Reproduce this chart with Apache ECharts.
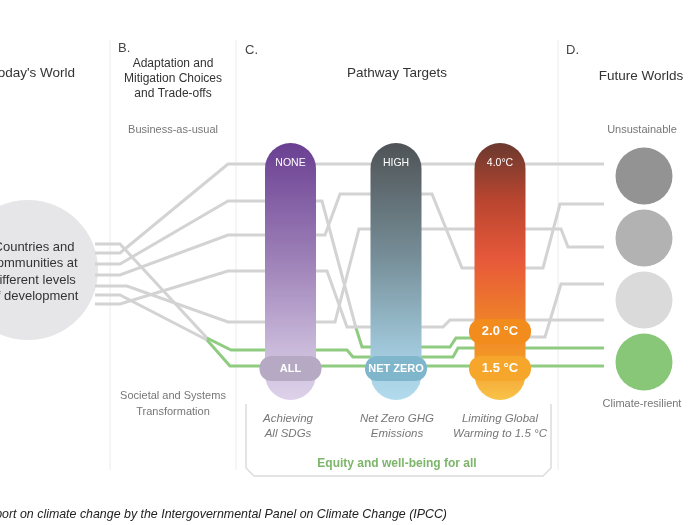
<!DOCTYPE html>
<html><head><meta charset="utf-8">
<script src="https://cdn.jsdelivr.net/npm/echarts@6/dist/echarts.min.js"></script>
<style>html,body{margin:0;padding:0;background:#fff}#c{width:700px;height:525px}</style>
</head><body><div id="c"></div>
<script>
// ---- content / data ----
const sectionLetters = ['B.', 'C.', 'D.'];
const headings = ["Today's World", 'Adaptation and\nMitigation Choices\nand Trade-offs', 'Pathway Targets', 'Future Worlds'];
const startLabel = 'Countries and\ncommunities at\ndifferent levels\nof development';
const choiceLabels = ['Business-as-usual', 'Societal and Systems\nTransformation'];
const targetTop = ['NONE', 'HIGH', '4.0\u00B0C'];
const targetBottom = ['ALL', 'NET ZERO', '1.5 \u00B0C'];
const targetMid = ['', '', '2.0 \u00B0C'];
const targetNames = ['Achieving\nAll SDGs', 'Net Zero GHG\nEmissions', 'Limiting Global\nWarming to 1.5 \u00B0C'];
const worldLabels = ['Unsustainable', 'Climate-resilient'];
const equityLabel = 'Equity and well-being for all';
const sourceLabel = 'Source: Special report on climate change by the Intergovernmental Panel on Climate Change (IPCC)';

// pathways (diagram coordinates)
const pathTop      = [[95,253],[120,253],[228,164],[604,164]];
const pathA_gray   = [[95,264],[120,264],[228,201],[322,201],[356,328]];
const pathA_green  = [[356,328],[362,347],[450,347],[456,338],[490,338]];
const pathA_exit   = [[515,337],[545,337],[561,284],[604,284]];
const pathB        = [[95,275],[120,275],[228,235],[325,235],[340,194],[432,194],[462,268],[543,268],[560,204],[604,204]];
const pathC        = [[95,304],[120,304],[228,271],[327,271],[347,327],[443,327],[450,320],[604,320]];
const pathD        = [[95,286],[127,286],[228,322],[335,322],[359,229],[561,229],[568,247],[604,247]];
const pathE_gray   = [[95,244],[120,244],[207,338]];
const pathE_green  = [[207,338],[231,350],[347,350],[353,357],[453,357],[458,348],[604,348]];
const pathF_gray   = [[95,295],[120,295],[207,340]];
const pathF_green  = [[207,340],[230,366],[604,366]];
const boxOutline   = [[246,404],[246,468],[254,476],[543,476],[551,468],[551,404]];
const dividers     = [[[110,40],[110,470]], [[236,40],[236,470]], [[558,40],[558,470]]];

const worlds = [[644,176],[644,238],[644,300],[644,362]];
const startCircle = [[28,270]];

// ---- layout / style ----
const GRAY = '#d3d3d3', GREEN = '#8fcb80';
const pillCenters = [290.5, 396, 500];
const pillHalfW = 25.5, pillTop = 143, pillBottom = 400;
const worldColors = ['#939393', '#b3b2b2', '#dadada', '#88c778'];
const pillGradients = [
  [{offset:0,color:'#6a3f92'},{offset:0.45,color:'#9d80b7'},{offset:0.8,color:'#c9b9da'},{offset:1,color:'#ddd2e9'}],
  [{offset:0,color:'#4f5356'},{offset:0.45,color:'#778f99'},{offset:0.8,color:'#9fc7d9'},{offset:1,color:'#b2dcee'}],
  [{offset:0,color:'#6b392f'},{offset:0.22,color:'#b8452f'},{offset:0.45,color:'#e6583a'},{offset:0.65,color:'#ee7a2c'},{offset:0.82,color:'#f39426'},{offset:1,color:'#f8c34a'}]
];
const badgeColors = ['#b5a9c3', '#80b6cc', '#f5a62b'];
const midBadgeColor = '#f18c1d';
const FONT = "'Liberation Sans', Arial, sans-serif";
const NARROW = "'Liberation Sans Narrow', 'Liberation Sans', Arial, sans-serif";

const chart = echarts.init(document.getElementById('c'), null, {renderer:'canvas'});

function lineItem(coords, color) { return {coords: coords, lineStyle: {color: color}}; }

function txt(text, x, y, opt) {
  return {type:'text', x:x, y:y, z:100, style: Object.assign({
    text:text, fill:'#333', font:'13.5px ' + FONT, align:'center', verticalAlign:'middle'
  }, opt || {})};
}

const option = {
  animation: false,
  backgroundColor: '#fff',
  grid: {left:0, right:0, top:0, bottom:0},
  xAxis: {type:'value', min:0, max:700, show:false},
  yAxis: {type:'value', min:0, max:525, inverse:true, show:false},
  series: [
    { // dividers
      type:'lines', coordinateSystem:'cartesian2d', polyline:true, z:1, silent:true,
      lineStyle:{color:'#ececec', width:1, opacity:1},
      data: dividers.map(d => ({coords:d}))
    },
    { // box outline
      type:'lines', coordinateSystem:'cartesian2d', polyline:true, z:1, silent:true,
      lineStyle:{color:'#dcdcdc', width:1.5, opacity:1},
      data: [{coords: boxOutline}]
    },
    { // start circle
      type:'scatter', z:2, silent:true, symbolSize:140,
      itemStyle:{color:'#e6e6e8', opacity:1},
      data: startCircle
    },
    { // pathway segments without arrows
      type:'lines', coordinateSystem:'cartesian2d', polyline:true, z:3, silent:true,
      lineStyle:{width:3, opacity:1},
      data: [
        lineItem(pathA_gray, GRAY), lineItem(pathA_green, GREEN),
        lineItem(pathE_gray, GRAY), lineItem(pathF_gray, GRAY)
      ]
    },
    { // pathway segments with arrows
      type:'lines', coordinateSystem:'cartesian2d', polyline:true, z:3, silent:true,
      symbol:['none','arrow'], symbolSize:9,
      lineStyle:{width:3, opacity:1},
      data: [
        lineItem(pathTop, GRAY), lineItem(pathA_exit, GRAY), lineItem(pathB, GRAY),
        lineItem(pathC, GRAY), lineItem(pathD, GRAY),
        lineItem(pathE_green, GREEN), lineItem(pathF_green, GREEN)
      ]
    },
    { // future world circles
      type:'scatter', z:4, silent:true, symbolSize:57,
      itemStyle:{opacity:1, color: p => worldColors[p.dataIndex]},
      data: worlds
    },
    { // target pills
      type:'custom', z:5, silent:true,
      data: targetTop.map((t,i) => [i]),
      renderItem: function(params, api) {
        const i = api.value(0);
        const cx = pillCenters[i];
        const tl = api.coord([cx - pillHalfW, pillTop]);
        const br = api.coord([cx + pillHalfW, pillBottom]);
        const w = br[0] - tl[0];
        const children = [
          {type:'rect', shape:{x:tl[0], y:tl[1], width:w, height:br[1]-tl[1], r:w/2},
           style:{fill: new echarts.graphic.LinearGradient(0,0,0,1,pillGradients[i])}},
        ];
        const topPt = api.coord([cx, 163]);
        children.push({type:'text', style:{text:targetTop[i], x:topPt[0], y:topPt[1], fill:'#fff',
          font:'10.5px ' + NARROW, align:'center', verticalAlign:'middle'}});
        const b1 = api.coord([cx - 31, 356]), b2 = api.coord([cx + 31, 381]);
        children.push({type:'rect', shape:{x:b1[0], y:b1[1], width:b2[0]-b1[0], height:b2[1]-b1[1], r:12},
          style:{fill: badgeColors[i]}});
        const bc = api.coord([cx, 368.5]);
        children.push({type:'text', style:{text:targetBottom[i], x:bc[0], y:bc[1], fill:'#fff',
          font: (i === 2 ? 'bold 13px ' : 'bold 11px ') + FONT, align:'center', verticalAlign:'middle'}});
        if (targetMid[i]) {
          const m1 = api.coord([cx - 31, 319]), m2 = api.coord([cx + 31, 344]);
          children.push({type:'rect', shape:{x:m1[0], y:m1[1], width:m2[0]-m1[0], height:m2[1]-m1[1], r:12},
            style:{fill: midBadgeColor}});
          const mc = api.coord([cx, 331.5]);
          children.push({type:'text', style:{text:targetMid[i], x:mc[0], y:mc[1], fill:'#fff',
            font:'bold 13px ' + FONT, align:'center', verticalAlign:'middle'}});
        }
        return {type:'group', children: children};
      }
    }
  ],
  graphic: [
    txt(sectionLetters[0], 118, 48, {align:'left', fill:'#444', font:'13px ' + FONT}),
    txt(sectionLetters[1], 245, 50, {align:'left', fill:'#444', font:'13px ' + FONT}),
    txt(sectionLetters[2], 566, 50, {align:'left', fill:'#444', font:'13px ' + FONT}),
    txt(headings[0], 75, 73, {align:'right'}),
    txt(headings[1], 173, 79, {font:'12px ' + FONT, lineHeight:15}),
    txt(headings[2], 397, 73),
    txt(headings[3], 641, 76),
    txt(startLabel, 34, 272, {font:'13px ' + FONT, lineHeight:16.5}),
    txt(choiceLabels[0], 173, 130, {font:'11px ' + FONT, fill:'#777'}),
    txt(choiceLabels[1], 173, 404, {font:'11px ' + FONT, fill:'#777', lineHeight:16}),
    txt(worldLabels[0], 642, 130, {font:'11px ' + FONT, fill:'#777'}),
    txt(worldLabels[1], 642, 404, {font:'11px ' + FONT, fill:'#777'}),
    txt(targetNames[0], 288, 426.5, {font:'italic 11.5px ' + FONT, fill:'#777', lineHeight:15}),
    txt(targetNames[1], 397, 426.5, {font:'italic 11.5px ' + FONT, fill:'#777', lineHeight:15}),
    txt(targetNames[2], 500, 426.5, {font:'italic 11.5px ' + FONT, fill:'#777', lineHeight:15}),
    txt(equityLabel, 397, 464, {font:'bold 12px ' + FONT, fill:'#7db56b'}),
    txt(sourceLabel, 447, 515, {font:'italic 12.4px ' + FONT, fill:'#222', align:'right'})
  ]
};
chart.setOption(option);
</script>
</body></html>
